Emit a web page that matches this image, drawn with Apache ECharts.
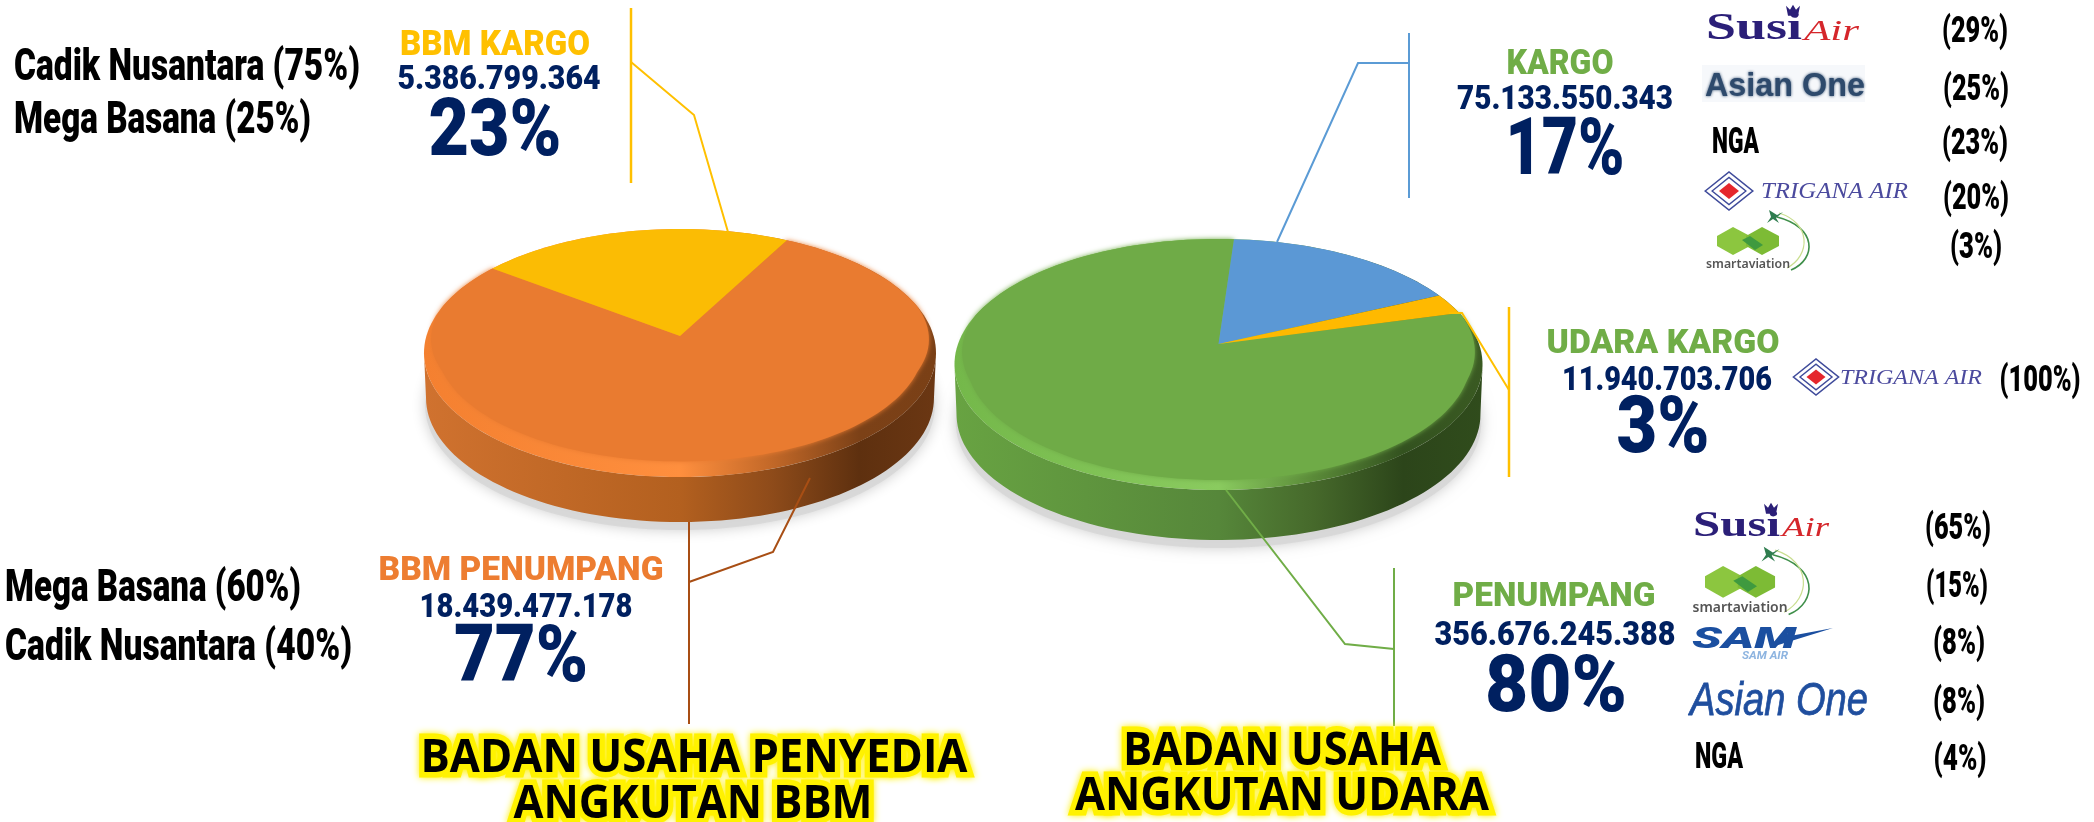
<!DOCTYPE html>
<html><head><meta charset="utf-8">
<style>html,body{margin:0;padding:0;background:#fff}#c{width:2094px;height:822px}</style>
<script src="https://cdn.jsdelivr.net/npm/echarts@6/dist/echarts.min.js"></script>
</head><body><div id="c"></div>
<script>
// ---------- data ----------
const bbmNames = ['BBM PENUMPANG', 'BBM KARGO'];
const bbmValues = [18439477178, 5386799364];
const bbmValueLabels = ['18.439.477.178', '5.386.799.364'];
const bbmPercents = ['77%', '23%'];
const udaraNames = ['PENUMPANG', 'KARGO', 'UDARA KARGO'];
const udaraValues = [356676245388, 75133550343, 11940703706];
const udaraValueLabels = ['356.676.245.388', '75.133.550.343', '11.940.703.706'];
const udaraPercents = ['80%', '17%', '3%'];
const bbmKargoOperators = ['Cadik Nusantara (75%)', 'Mega Basana (25%)'];
const bbmPenumpangOperators = ['Mega Basana (60%)', 'Cadik Nusantara (40%)'];
const kargoShares = ['(29%)', '(25%)', '(23%)', '(20%)', '(3%)'];
const udaraKargoShares = ['(100%)'];
const penumpangShares = ['(65%)', '(15%)', '(8%)', '(8%)', '(4%)'];
const titles = ['BADAN USAHA PENYEDIA', 'ANGKUTAN BBM', 'BADAN USAHA', 'ANGKUTAN UDARA'];

// ---------- layout ----------
const COND = 'Roboto,sans-serif';
const DIN = 'Roboto,sans-serif';
const NAVY = '#002060', GOLD = '#FFC000', ORANGE = '#ED7D31', GREEN = '#70AD47';
const leftPie = {cx:680, ay:336, R:253.6, S:121.7, k:.137, iR:243, iS:115.5, ik:.079, T:45, start:28.2,
  colors:['#E97B30', '#FBBC04'],
  band:['#F48030','#FF8F3E','#C26828','#7C4117','#7A4016'],
  wall:['#D0722F','#B3601F','#8E4B1A','#5E300F','#6B3713']};
const rightPie = {cx:1218.5, ay:344, R:260.5, S:122.2, k:.163, iR:250, iS:118.5, ik:.129, T:50, start:74.6,
  colors:['#6FAB47', '#5B98D5', '#FFB900'],
  band:['#74B84A','#8ACB5F','#5A8A38','#33521F','#3A5A22'],
  wall:['#68A342','#56873A','#46692B','#2C451A','#304C1C']};

function pt(g, deg, R, S, k, dy, sx){
  const a = deg*Math.PI/180, u = Math.sin(a), v = Math.cos(a), w = 1 + k*v;
  return [g.cx + (sx||1)*R*u/w, g.ay - S*v/w + (dy||0)];
}
function outline(g, R, S, k, dy, sx){
  const p=[]; for(let d=0;d<360;d+=2) p.push(pt(g,d,R,S,k,dy,sx)); return p;
}
// face point: on the rim in the back half, pulled in over the bevel towards the front
function facePt(g, deg){
  const a = pt(g,deg,g.R,g.S,g.k), b = pt(g,deg,g.iR,g.iS,g.ik);
  const t = Math.max(0,Math.min(1,(0.25-Math.cos(deg*Math.PI/180))/0.55));
  return [a[0]+(b[0]-a[0])*t, a[1]+(b[1]-a[1])*t];
}
function wedge(g, a0, a1, inner){
  const p=[[g.cx,g.ay]]; const n=Math.max(2,Math.ceil((a1-a0)/2));
  for(let i=0;i<=n;i++){ const d=a0+(a1-a0)*i/n; p.push(inner?facePt(g,d):pt(g,d,g.R,g.S,g.k)); }
  return p;
}
function hgrad(c){ const at=[0,.5,.68,.85,1];
  return {type:'linear',x:0,y:0,x2:1,y2:0,colorStops:c.map((color,i)=>({offset:at[i],color}))}; }

function pieRenderer(g, values){
  const total = values.reduce((a,b)=>a+b,0);
  const ext = Math.asin(g.k)*180/Math.PI;
  return function(params, api){
    const i = params.dataIndex, val = api.value(0);
    let a0 = g.start; for(let j=0;j<i;j++) a0 += values[j]/total*360;
    const a1 = a0 + val/total*360;
    if(i===0){
      const wallPts=[];
      for(let d=270-ext;d>=90+ext;d-=2) wallPts.push(pt(g,d,g.R,g.S,g.k));
      for(let d=90+ext;d<=270-ext;d+=2) wallPts.push(pt(g,d,g.R,g.S,g.k,g.T,.992));
      return {type:'group',children:[
        {type:'polygon',shape:{points:outline(g,g.R,g.S,g.k,g.T+8,.995)},
          style:{fill:'rgba(215,215,215,.9)',shadowBlur:14,shadowColor:'rgba(0,0,0,.22)'}},
        {type:'polygon',shape:{points:wallPts},style:{fill:hgrad(g.wall)}},
        {type:'polygon',shape:{points:outline(g,g.R,g.S,g.k)},style:{fill:hgrad(g.band)}},
        {type:'polygon',shape:{points:wedge(g,a0,a1,true)},
          style:{fill:g.colors[0],shadowBlur:5,shadowColor:g.colors[0]}}
      ]};
    }
    return {type:'polygon',shape:{points:wedge(g,a0,a1,false)},style:{fill:g.colors[i]}};
  };
}

// ---------- text & decorations ----------
const ctx = document.createElement('canvas').getContext('2d');
function txt(text,x,y,size,fill,width,o){
  o=o||{};
  const family=o.family||DIN, weight=o.weight||900, italic=o.italic?'italic ':'';
  ctx.font=italic+weight+' '+size+'px '+family;
  const sx = width ? width/ctx.measureText(text).width : 1;
  const va=o.va||'middle';
  const style={text,x:0,y:0,fill,fontFamily:family,fontSize:size,fontWeight:weight,
    fontStyle:o.italic?'italic':'normal',align:o.align||'center',verticalAlign:va};
  if(o.stroke){style.stroke=o.stroke;style.lineWidth=o.lineWidth;}
  if(o.glow){style.textShadowColor=o.glow;style.textShadowBlur=o.glowBlur||8;}
  if(o.blur){style.textShadowColor=fill;style.textShadowBlur=o.blur;}
  return {type:'text',x,y:y+(va==='middle'?size*.09:0),scaleX:sx,z:o.z||20,silent:true,style};
}
function line(points,stroke,w){return {type:'polyline',z:10,silent:true,shape:{points},style:{stroke,lineWidth:w||2,fill:null}};}
function poly(points,fill,stroke,w){return {type:'polygon',z:15,silent:true,shape:{points},style:{fill:fill||null,stroke:stroke||null,lineWidth:w||0}};}

function susi(x,base,w1,w2,h){
  const c=x+w1-9, top=base-h*.72;
  return [
    txt('Susi',x,base+h*.2,h,'#2B1F78',w1,{family:'"Liberation Serif",serif',align:'left',va:'bottom',weight:700}),
    txt('Air',x+w1+2,base+h*.16,h*.78,'#D5262B',w2,{family:'"Liberation Serif",serif',align:'left',va:'bottom',italic:true,weight:400}),
    poly([[c-5,top+2],[c-7,top-8],[c-3,top-4],[c,top-9],[c+3,top-4],[c+7,top-8],[c+5,top+2]],'#2B1F78')
  ];
}
function trigana(cx,cy,s,tx,tw,size){
  const dia=r=>[[cx-r*1.25,cy],[cx,cy-r],[cx+r*1.25,cy],[cx,cy+r]];
  return [
    poly(dia(19*s),null,'#3F4B9B',1.6),
    poly(dia(13.5*s),null,'#3F4B9B',1.4),
    poly(dia(8*s),'#E5262C'),
    txt('TRIGANA AIR',tx,cy-1,size,'#4B4A9E',tw,{family:'"Liberation Serif",serif',italic:true,align:'left',weight:400})
  ];
}
function smart(x,y,s,tw){
  const P=(a,b)=>[x+a*s,y+b*s];
  return [
    poly([P(0,9),P(16,0),P(33,9),P(33,19),P(16,28),P(0,19)],'#8CC63F'),
    poly([P(29,9),P(45,0),P(62,9),P(62,19),P(45,28),P(29,19)],'#7DBB35'),
    poly([P(25,13),P(33,9),P(46,18),P(38,23)],'#3F9A3F'),
    txt('smartaviation',x-11*s,y+36*s,12*s,'#555',tw,{align:'left',family:'"Noto Sans",sans-serif',weight:600}),
    {type:'bezierCurve',z:15,silent:true,shape:{x1:x+60*s,y1:y-10*s,cpx1:x+100*s,cpy1:y,cpx2:x+100*s,cpy2:y+32*s,x2:x+74*s,y2:y+43*s},style:{stroke:'#3F8F4A',lineWidth:1.6,fill:null}},
    {type:'bezierCurve',z:15,silent:true,shape:{x1:x+62*s,y1:y-14*s,cpx1:x+94*s,cpy1:y-4*s,cpx2:x+94*s,cpy2:y+28*s,x2:x+70*s,y2:y+41*s},style:{stroke:'#C9DE8F',lineWidth:1.2,fill:null}},
    poly([P(52,-17),P(60,-12),P(66,-15),P(59,-9),P(62,-4),P(56,-8),P(50,-4),P(54,-10)],'#2F7D4F')
  ];
}

const B = '#A84E14';
const elements = [
  line([[631,8],[631,183]],GOLD,2.5),
  line([[631,62],[694,115],[728,232]],GOLD,2),
  line([[810,478],[773,552],[689,582]],B,2),
  line([[689,522],[689,724]],B,2),
  line([[1409,33],[1409,198]],'#5B9BD5',2),
  line([[1409,63],[1358,63],[1277,242]],'#5B9BD5',2),
  line([[1509,307],[1509,477]],GOLD,2.5),
  line([[1509,390],[1462,313],[1449,313]],GOLD,2),
  line([[1394,568],[1394,726]],GREEN,2),
  line([[1226,490],[1345,644],[1394,649]],GREEN,2),
  txt(bbmKargoOperators[0],14,65,44,'#000',346,{align:'left',family:COND}),
  txt(bbmKargoOperators[1],14,118,44,'#000',297,{align:'left',family:COND}),
  txt(bbmNames[1],495,43,35,GOLD,190),
  txt(bbmValueLabels[1],499,77,34,NAVY,203),
  txt(bbmPercents[1],495,128,80,NAVY,133),
  txt(bbmPenumpangOperators[0],5,586,44,'#000',296,{align:'left',family:COND}),
  txt(bbmPenumpangOperators[1],5,645,44,'#000',347,{align:'left',family:COND}),
  txt(bbmNames[0],521,569,33,ORANGE,285),
  txt(bbmValueLabels[0],526,605,34,NAVY,213),
  txt(bbmPercents[0],521,654,80,NAVY,134),
  txt(udaraNames[1],1560,62,35,GREEN,107),
  txt(udaraValueLabels[1],1565,97,34,NAVY,216),
  txt(udaraPercents[1],1565,147,80,NAVY,119),
  txt(udaraNames[2],1663,342,33,GREEN,233),
  txt(udaraValueLabels[2],1667,378,34,NAVY,210),
  txt(udaraPercents[2],1663,425,80,NAVY,93),
  txt(udaraNames[0],1554,595,33,GREEN,203),
  txt(udaraValueLabels[0],1555,633,34,NAVY,241),
  txt(udaraPercents[0],1556,684,80,NAVY,142),
  txt(kargoShares[0],1975,30,36,'#000',66,{family:COND}),
  txt(kargoShares[1],1976,88,36,'#000',66,{family:COND}),
  txt(kargoShares[2],1975,142,36,'#000',66,{family:COND}),
  txt(kargoShares[3],1976,197,36,'#000',66,{family:COND}),
  txt(kargoShares[4],1976,246,36,'#000',52,{family:COND}),
  txt(udaraKargoShares[0],2040,379,36,'#000',81,{family:COND}),
  txt(penumpangShares[0],1958,527,36,'#000',66,{family:COND}),
  txt(penumpangShares[1],1957,585,36,'#000',62,{family:COND}),
  txt(penumpangShares[2],1959,642,36,'#000',52,{family:COND}),
  txt(penumpangShares[3],1959,701,36,'#000',52,{family:COND}),
  txt(penumpangShares[4],1960,758,36,'#000',53,{family:COND}),
  ...susi(1706,41,96,55,38),
  {type:'rect',z:12,silent:true,shape:{x:1702,y:65,width:163,height:37},style:{fill:'#F6F8FB'}},
  txt('Asian One',1705,84,34,'#2E4A6C',160,{align:'left',family:'"Liberation Sans",sans-serif',weight:700,blur:3}),
  txt('NGA',1712,141,36,'#000',47,{align:'left',family:COND}),
  ...trigana(1729,191,1,1761,147,23),
  ...smart(1717,227,1,84),
  ...trigana(1816,377,.95,1840,142,22),
  ...susi(1693,537,87,47,35),
  ...smart(1705,566,1.13,95),
  txt('SAM',1692,638,30,'#1B4FA0',104,{align:'left',italic:true}),
  poly([[1775,646],[1833,628],[1790,636],[1785,632]],'#1B4FA0'),
  txt('SAM AIR',1742,656,10,'#8DB4E0',46,{align:'left',italic:true,weight:700}),
  txt('Asian One',1690,698,47,'#1F4E9E',178,{align:'left',italic:true,family:'"Liberation Sans",sans-serif',weight:400,stroke:'#1F4E9E',lineWidth:.8}),
  txt('NGA',1695,756,36,'#000',48,{align:'left',family:COND}),
  ...[[694,755,547],[693,801,359],[1282,748,318],[1282,793,414]].map((p,i)=>
    txt(titles[i],p[0],p[1],46,'#000',p[2],{family:'"Open Sans",sans-serif',stroke:'#FFF200',lineWidth:11,glow:'#FFF200',glowBlur:7,weight:700,z:30}))
];

const chart = echarts.init(document.getElementById('c'),null,{renderer:'canvas'});
chart.setOption({
  backgroundColor:'#fff',
  animation:false,
  series:[
    {type:'custom',coordinateSystem:'none',z:1,silent:true,clip:false,renderItem:pieRenderer(leftPie,bbmValues),
     data:bbmValues.map((v,i)=>({name:bbmNames[i],value:[v]}))},
    {type:'custom',coordinateSystem:'none',z:2,silent:true,clip:false,renderItem:pieRenderer(rightPie,udaraValues),
     data:udaraValues.map((v,i)=>({name:udaraNames[i],value:[v]}))}
  ],
  graphic:{elements}
});
</script></body></html>
